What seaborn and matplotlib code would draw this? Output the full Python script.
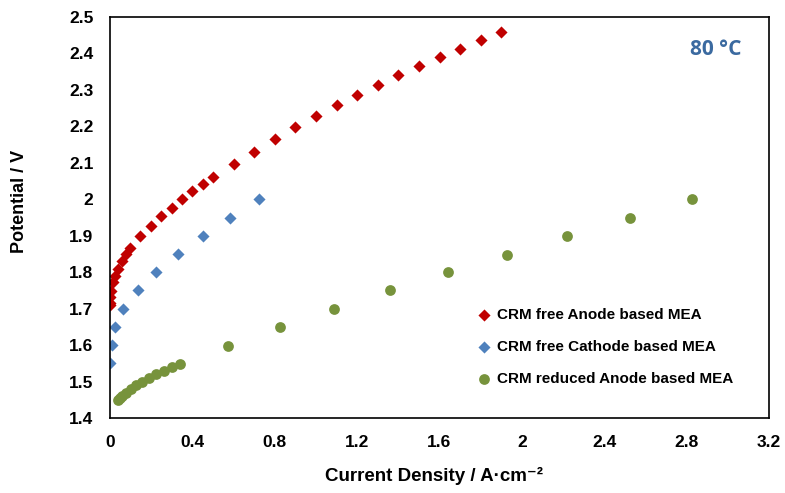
import matplotlib
matplotlib.use("Agg")
import matplotlib.pyplot as plt
import seaborn as sns
import pandas as pd

# Data
anode_free_x = [0.0, 0.0, 0.0, 0.005, 0.016, 0.026, 0.037, 0.057, 0.078, 0.097, 0.147,
                0.20, 0.25, 0.30, 0.35, 0.40, 0.45, 0.50, 0.60, 0.70, 0.80, 0.90,
                1.00, 1.10, 1.20, 1.30, 1.40, 1.50, 1.60, 1.70, 1.80, 1.90]
anode_free_y = [1.709, 1.716, 1.733, 1.749, 1.773, 1.790, 1.808, 1.830, 1.849, 1.865, 1.898,
                1.927, 1.954, 1.976, 2.000, 2.022, 2.043, 2.062, 2.098, 2.131, 2.165, 2.197,
                2.229, 2.258, 2.287, 2.313, 2.341, 2.366, 2.390, 2.413, 2.438, 2.459]

cathode_free_x = [0.0015, 0.011, 0.024, 0.065, 0.134, 0.225, 0.332, 0.453, 0.583, 0.723]
cathode_free_y = [1.55, 1.60, 1.65, 1.70, 1.75, 1.80, 1.85, 1.90, 1.95, 2.00]

reduced_x = [0.039, 0.049, 0.060, 0.078, 0.100, 0.126, 0.155, 0.188, 0.222, 0.260, 0.300,
             0.340, 0.573, 0.825, 1.089, 1.360, 1.641, 1.926, 2.218, 2.523, 2.827]
reduced_y = [1.449, 1.455, 1.461, 1.469, 1.479, 1.490, 1.499, 1.509, 1.520, 1.529, 1.539,
             1.549, 1.598, 1.649, 1.699, 1.750, 1.800, 1.848, 1.898, 1.949, 2.000]

labels = ["CRM free Anode based MEA", "CRM free Cathode based MEA", "CRM reduced Anode based MEA"]
x_ticks = [0, 0.4, 0.8, 1.2, 1.6, 2.0, 2.4, 2.8, 3.2]
x_tick_labels = ["0", "0.4", "0.8", "1.2", "1.6", "2", "2.4", "2.8", "3.2"]
y_ticks = [1.4, 1.5, 1.6, 1.7, 1.8, 1.9, 2.0, 2.1, 2.2, 2.3, 2.4, 2.5]
y_tick_labels = ["1.4", "1.5", "1.6", "1.7", "1.8", "1.9", "2", "2.1", "2.2", "2.3", "2.4", "2.5"]

df = pd.concat([
    pd.DataFrame({"x": anode_free_x, "y": anode_free_y, "series": labels[0]}),
    pd.DataFrame({"x": cathode_free_x, "y": cathode_free_y, "series": labels[1]}),
    pd.DataFrame({"x": reduced_x, "y": reduced_y, "series": labels[2]}),
], ignore_index=True)

sns.set_style("white")
plt.rcParams["font.family"] = ["Liberation Sans", "DejaVu Sans"]
plt.rcParams["text.color"] = "black"
plt.rcParams["axes.labelcolor"] = "black"

fig = plt.figure(figsize=(7.85, 4.93), dpi=100)
ax = fig.add_axes([110 / 785, 1 - 418 / 493, 659 / 785, 401 / 493])

palette = {labels[0]: "#C00000", labels[1]: "#4F81BD", labels[2]: "#77933C"}
markers = {labels[0]: "D", labels[1]: "D", labels[2]: "o"}
sizes_map = {labels[0]: 38, labels[1]: 38, labels[2]: 60}

for lab in labels:
    sub = df[df["series"] == lab]
    sns.scatterplot(data=sub, x="x", y="y", ax=ax, color=palette[lab],
                    marker=markers[lab], s=sizes_map[lab], linewidth=0, label=lab)

ax.set_xlim(0, 3.2)
ax.set_ylim(1.4, 2.5)
ax.set_xticks(x_ticks)
ax.set_xticklabels(x_tick_labels)
ax.set_yticks(y_ticks)
ax.set_yticklabels(y_tick_labels)
ax.tick_params(direction="in", length=5, width=1, colors="black", labelsize=12.5, pad=12)
for lbl in ax.get_xticklabels() + ax.get_yticklabels():
    lbl.set_fontweight("bold")
for sp in ax.spines.values():
    sp.set_color("black")
    sp.set_linewidth(1.2)

ax.set_xlabel("Current Density / A·cm⁻²", fontsize=13.5, fontweight="bold",
              family=["Liberation Sans", "DejaVu Sans"])
ax.xaxis.set_label_coords(0.492, -0.122)
ax.set_ylabel("Potential / V", fontsize=13, fontweight="bold")
ax.yaxis.set_label_coords(-0.124, 0.539)

ax.text(0.959, 0.918, "80 °C", transform=ax.transAxes, ha="right", va="center",
        fontsize=15, fontweight="bold", color="#3B6AA0", family=["Open Sans", "DejaVu Sans"])

leg = ax.legend(loc="upper left", bbox_to_anchor=(0.545, 0.29), frameon=False,
                prop={"weight": "bold", "size": 11}, handletextpad=0.2,
                labelspacing=1.2, handlelength=1.2, borderaxespad=0)

fig.savefig("out.png", dpi=100)
